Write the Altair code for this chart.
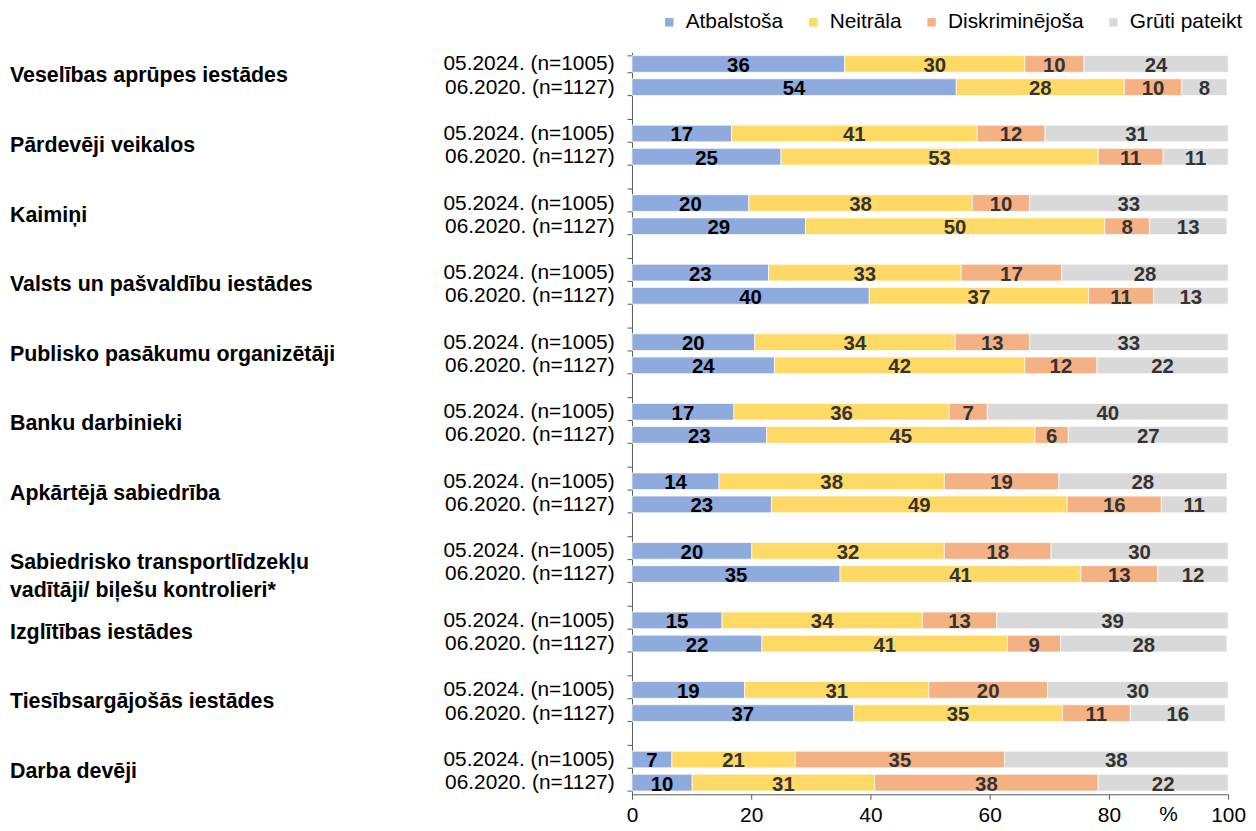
import altair as alt
import pandas as pd

categories = [
    "Veselības aprūpes iestādes",
    "Pārdevēji veikalos",
    "Kaimiņi",
    "Valsts un pašvaldību iestādes",
    "Publisko pasākumu organizētāji",
    "Banku darbinieki",
    "Apkārtējā sabiedrība",
    "Sabiedrisko transportlīdzekļu\nvadītāji/ biļešu kontrolieri*",
    "Izglītības iestādes",
    "Tiesībsargājošās iestādes",
    "Darba devēji",
]
periods = ["05.2024. (n=1005)", "06.2020. (n=1127)"]
series = ["Atbalstoša", "Neitrāla", "Diskriminējoša", "Grūti pateikt"]
colors = ["#8FAADC", "#FFD966", "#F4B183", "#D9D9D9"]
label_colors = ["#000000", "#333333", "#333333", "#333333"]
x_ticks = [0, 20, 40, 60, 80, 100]

# bar lengths (%)
atb_2024 = [35.7, 16.7, 19.6, 22.9, 20.6, 17.1, 14.6, 20.1, 15.1, 18.9, 6.7]
nei_2024 = [30.2, 41.2, 37.5, 32.3, 33.6, 36.1, 37.8, 32.3, 33.6, 30.9, 20.7]
dis_2024 = [9.9, 11.4, 9.6, 16.9, 12.5, 6.4, 19.2, 17.9, 12.5, 19.9, 35.1]
gru_2024 = [24.2, 30.7, 33.3, 27.9, 33.3, 40.4, 28.2, 29.7, 38.8, 30.3, 37.5]
atb_2020 = [54.4, 25.0, 29.1, 39.8, 23.9, 22.6, 23.4, 34.9, 21.8, 37.2, 10.1]
nei_2020 = [28.2, 53.2, 50.2, 36.8, 42.0, 45.0, 49.6, 40.4, 41.2, 35.0, 30.6]
dis_2020 = [9.6, 10.9, 7.5, 10.9, 12.1, 5.6, 15.8, 12.9, 8.9, 11.4, 37.5]
gru_2020 = [7.6, 10.9, 13.0, 12.5, 22.0, 26.8, 11.0, 11.8, 27.9, 15.9, 21.8]

# printed labels
lab_atb_2024 = [36, 17, 20, 23, 20, 17, 14, 20, 15, 19, 7]
lab_nei_2024 = [30, 41, 38, 33, 34, 36, 38, 32, 34, 31, 21]
lab_dis_2024 = [10, 12, 10, 17, 13, 7, 19, 18, 13, 20, 35]
lab_gru_2024 = [24, 31, 33, 28, 33, 40, 28, 30, 39, 30, 38]
lab_atb_2020 = [54, 25, 29, 40, 24, 23, 23, 35, 22, 37, 10]
lab_nei_2020 = [28, 53, 50, 37, 42, 45, 49, 41, 41, 35, 31]
lab_dis_2020 = [10, 11, 8, 11, 12, 6, 16, 13, 9, 11, 38]
lab_gru_2020 = [8, 11, 13, 13, 22, 27, 11, 12, 28, 16, 22]

vals = {
    0: [atb_2024, nei_2024, dis_2024, gru_2024],
    1: [atb_2020, nei_2020, dis_2020, gru_2020],
}
labs = {
    0: [lab_atb_2024, lab_nei_2024, lab_dis_2024, lab_gru_2024],
    1: [lab_atb_2020, lab_nei_2020, lab_dis_2020, lab_gru_2020],
}

slots = []
for i in range(len(categories)):
    slots += [f"{i:02d}a", f"{i:02d}b"]
    if i < len(categories) - 1:
        slots.append(f"{i:02d}c")

rows = []
for i, cat in enumerate(categories):
    for p in (0, 1):
        start = 0.0
        for s in range(4):
            v = vals[p][s][i]
            rows.append({
                "slot": f"{i:02d}{'ab'[p]}",
                "series": series[s],
                "start": start,
                "end": start + v,
                "mid": start + v / 2,
                "label": str(labs[p][s][i]),
                "tcolor": label_colors[s],
            })
            start += v
df = pd.DataFrame(rows)
cat_df = pd.DataFrame({"slot": [f"{i:02d}a" for i in range(len(categories))], "category": categories})

W = 600
H = 746.7
SLOT = H / len(slots)
SANS = "Liberation Sans, Arial, sans-serif"

label_expr = (
    f"substring(datum.value, 2, 3) == 'a' ? '{periods[0]}' : "
    f"substring(datum.value, 2, 3) == 'b' ? '{periods[1]}' : ''"
)

xscale = alt.Scale(domain=[0, 100], nice=False, zero=True)
yscale = alt.Scale(domain=slots, paddingInner=0.28, paddingOuter=0.14)

bars = alt.Chart(df).mark_bar(stroke="white", strokeWidth=0.7).encode(
    x=alt.X("start:Q", scale=xscale, axis=alt.Axis(
        values=x_ticks, title=None, grid=False, tickSize=5, tickColor="#595959",
        domainColor="#595959", labelFontSize=21, labelFont=SANS, labelColor="#000000",
        labelPadding=5, labelFlush=False)),
    x2="end:Q",
    y=alt.Y("slot:N", scale=yscale, axis=alt.Axis(
        title=None, labelExpr=label_expr, tickBand="extent", tickSize=5,
        tickColor="#595959", domainColor="#595959", labelFontSize=21, labelFont=SANS,
        labelColor="#000000", labelPadding=13, grid=False)),
    color=alt.Color("series:N", scale=alt.Scale(domain=series, range=colors), legend=alt.Legend(
        title=None, orient="none", legendX=27, legendY=-41, direction="horizontal",
        symbolType="square", symbolSize=72, symbolStrokeWidth=0, labelFontSize=21,
        labelFont=SANS, labelColor="#000000", labelOffset=6, columnPadding=19, padding=0)),
)

texts = alt.Chart(df).mark_text(font=SANS, fontWeight="bold", fontSize=20.5, baseline="middle", dy=2).encode(
    x="mid:Q",
    y=alt.Y("slot:N", scale=yscale),
    text="label:N",
    color=alt.Color("tcolor:N", scale=None),
)

cats = alt.Chart(cat_df).mark_text(
    font=SANS, fontWeight="bold", fontSize=21.5, align="left", baseline="middle",
    dy=SLOT / 2 + 1, lineBreak="\n", lineHeight=28, color="#000000",
).encode(
    x=alt.value(-626),
    y=alt.Y("slot:N", scale=yscale),
    text="category:N",
)

pct = alt.Chart(pd.DataFrame({"t": ["%"]})).mark_text(
    font=SANS, fontSize=21, baseline="middle", color="#000000"
).encode(x=alt.value(540), y=alt.value(H + 21), text="t:N")

chart = alt.layer(bars, texts, cats, pct).properties(
    width=W, height=H,
    autosize=alt.AutoSizeParams(type="none"),
    padding={"left": 628, "top": 42, "right": 20, "bottom": 33},
).configure_view(strokeWidth=0)

chart.save("out.html", embed_options={"renderer": "svg", "actions": False})
